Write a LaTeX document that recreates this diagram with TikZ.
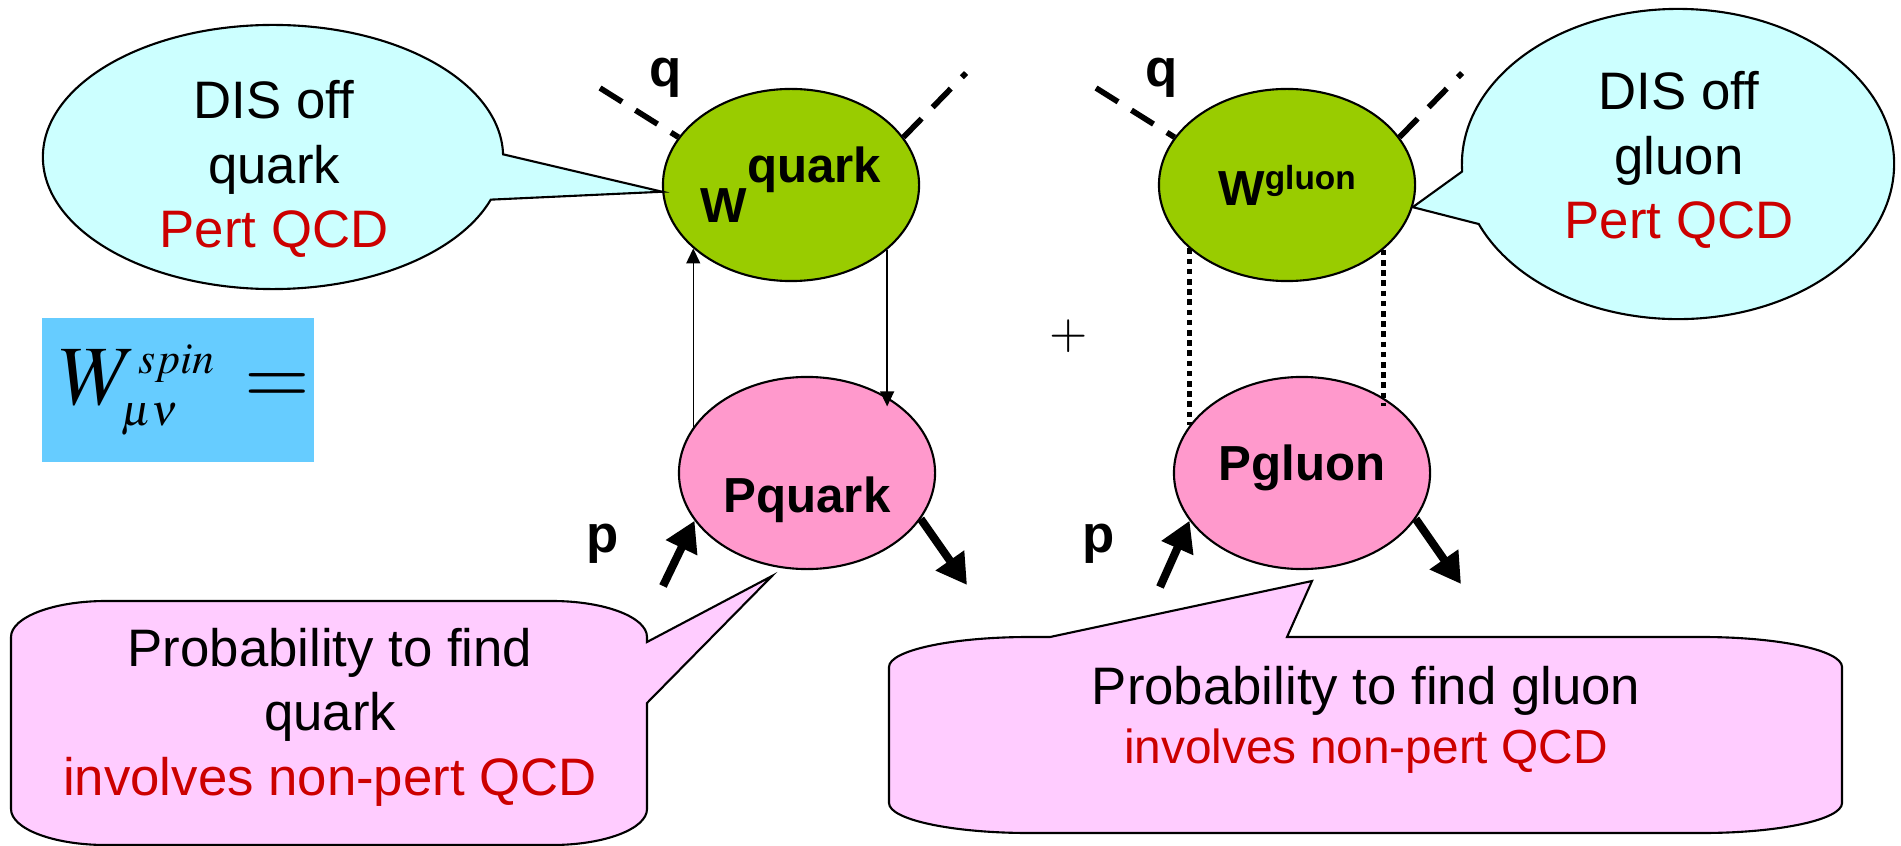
\documentclass[tikz,border=0pt]{standalone}
\usepackage[no-math]{fontspec}
\usepackage{mathptmx}
\setmainfont{Liberation Serif}
\setsansfont{Liberation Sans}
\usetikzlibrary{arrows.meta, shapes.geometric, shapes.callouts}
\DeclareMathSizes{24}{24}{12.5}{10}
\definecolor{wgreen}{HTML}{99CC00}
\definecolor{ppink}{HTML}{FF99CC}
\definecolor{discyan}{HTML}{CCFFFF}
\definecolor{probpink}{HTML}{FFCCFF}
\definecolor{spinblue}{HTML}{66CCFF}
\definecolor{qcdred}{HTML}{CC0000}

\begin{document}
\begin{tikzpicture}[
  x=0.01cm, y=0.01cm,
  wblob/.style={ellipse, draw, line width=0.6pt, fill=wgreen,
                minimum width=2.56cm, minimum height=1.92cm, inner sep=0pt,
                font=\sffamily\bfseries\fontsize{14}{17}\selectfont},
  pblob/.style={wblob, fill=ppink},
  discall/.style={ellipse callout, draw, line width=0.6pt, fill=discyan,
                  inner sep=0pt, callout pointer arc=20},
  probcall/.style={draw, line width=0.6pt, fill=probpink},
  spinbox/.style={fill=spinblue, minimum width=2.72cm, minimum height=1.43cm,
                  inner sep=0pt, font=\fontsize{24}{28}\selectfont},
  lbl/.style={font=\sffamily\bfseries\fontsize{15}{18}\selectfont,
              inner sep=0pt, anchor=base},
  say/.style={font=\sffamily\fontsize{15}{18.3}\selectfont, align=center,
              inner sep=0pt},
  qline/.style={line width=1.6pt, dash pattern=on 7.4pt off 4.5pt},
  gline/.style={line width=1.5pt, dash pattern=on 1.6pt off 1.3pt},
  thinarr/.style={-{Triangle[length=1.5mm, width=1.4mm]}, line width=0.4pt},
  fatarr/.style={-{Triangle[length=3mm, width=3.3mm]}, line width=2.3pt}
]
\useasboundingbox (0,0) rectangle (1901,-846);

% blobs
\node[wblob] (wq) at (791,-185) {W\raisebox{11.4pt}{quark}};
\node[wblob] (wg) at (1287,-185)
  {W\raisebox{4.5pt}{\fontsize{9.5}{11}\selectfont gluon}};
\node[pblob, text height=22.2pt, text depth=0pt] (pq) at (807,-473) {Pquark};
\node[pblob, text height=4pt, text depth=0pt] (pg) at (1302,-473) {Pgluon};

% quark and gluon legs
\draw[thinarr] (pq.158) -- (pq.158 |- wq.213);
\draw[thinarr, shorten >=-1mm] (wq.-34) -- (wq.-34 |- pq.44);
\draw[gline] (wg.213) -- (wg.213 |- pg.157);
\draw[gline, shorten >=-1mm] (wg.-34) -- (wg.-34 |- pg.44);

% photon q
\coordinate (qqa) at (600,-88);  \coordinate (qqb) at (966,-73);
\coordinate (qga) at (1096,-88); \coordinate (qgb) at (1462,-73);
\draw[qline] (qqa) -- (wq.157);
\draw[qline] (wq.23) -- (qqb);
\draw[qline] (qga) -- (wg.157);
\draw[qline] (wg.23) -- (qgb);
\node[lbl] (qq) at (666,-87) {q};
\node[lbl] (qg) at (1162,-87) {q};

% proton p
\coordinate (pqin) at (663,-586);  \coordinate (pqout) at (967,-585);
\coordinate (pgin) at (1160,-587); \coordinate (pgout) at (1461,-584);
\draw[fatarr] (pqin) -- (pq.203);
\draw[fatarr] (pq.-22) -- (pqout);
\draw[fatarr] (pgin) -- (pg.203);
\draw[fatarr] (pg.-22) -- (pgout);
\node[lbl] (pl) at (603,-552) {p};
\node[lbl] (pr) at (1099,-552) {p};

\node[font=\fontsize{14}{17}\selectfont, inner sep=0pt] (plus) at (1069,-336) {$+$};
\node[spinbox] (spin) at (178,-390)
  {$\kern4pt W^{\hspace{0.5pt}spin}_{\mu\nu}\mkern2mu=$};

% DIS callouts
\node[discall, minimum width=4.6cm, minimum height=2.64cm,
      callout absolute pointer={(wq.183)}] (disq) at (273,-157) {};
\node[say] (disqt) at (274,-169)
  {DIS off\\quark\\\textcolor{qcdred}{Pert QCD}};
\node[discall, minimum width=4.32cm, minimum height=3.1cm,
      callout absolute pointer={(wg.-10)}] (disg) at (1678,-164) {};
\node[say] (disgt) at (1679,-160)
  {DIS off\\gluon\\\textcolor{qcdred}{Pert QCD}};

% probability callouts
\draw[probcall] (106,-601) -- (552,-601)
  arc[start angle=90, end angle=0, x radius=95, y radius=36]
  -- (647,-642) -- (772,-576) -- (647,-703) -- (647,-809)
  arc[start angle=0, end angle=-90, x radius=95, y radius=36]
  -- (106,-845)
  arc[start angle=-90, end angle=-180, x radius=95, y radius=36]
  -- (11,-637)
  arc[start angle=180, end angle=90, x radius=95, y radius=36] -- cycle;
\node[say] (probq) at (330,-717)
  {Probability to find\\quark\\\textcolor{qcdred}{involves non-pert QCD}};

\draw[probcall] (1029,-637) -- (1050,-637) -- (1312,-581) -- (1287,-637)
  -- (1702,-637)
  arc[start angle=90, end angle=0, x radius=140, y radius=30]
  -- (1842,-803)
  arc[start angle=0, end angle=-90, x radius=140, y radius=30]
  -- (1029,-833)
  arc[start angle=-90, end angle=-180, x radius=140, y radius=30]
  -- (889,-667)
  arc[start angle=180, end angle=90, x radius=140, y radius=30] -- cycle;
\node[say] (probg) at (1366,-720)
  {Probability to find gluon\\[-1.5pt]
   {\fontsize{13.6}{17}\selectfont\color{qcdred}involves non-pert QCD}};

\end{tikzpicture}
\end{document}
